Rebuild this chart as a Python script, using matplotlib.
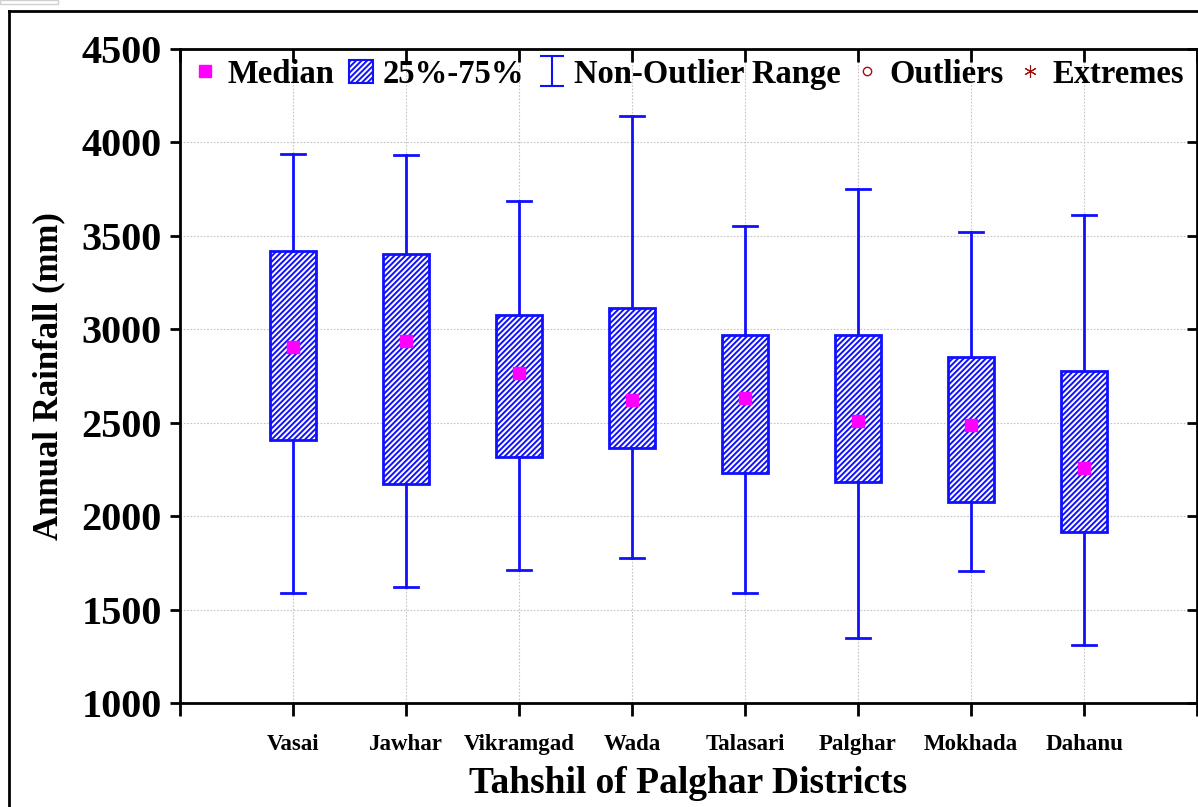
import matplotlib
matplotlib.use("Agg")
import matplotlib.pyplot as plt
from matplotlib.lines import Line2D
from matplotlib.patches import Patch, Rectangle
from matplotlib.path import Path

plt.rcParams["font.family"] = ["Liberation Serif", "DejaVu Serif"]
plt.rcParams["font.weight"] = "bold"
plt.rcParams["hatch.color"] = "#1010ff"
plt.rcParams["hatch.linewidth"] = 1.4

# --- dados (mm) --------------------------------------------------------
tahshils = ["Vasai", "Jawhar", "Vikramgad", "Wada",
            "Talasari", "Palghar", "Mokhada", "Dahanu"]
medianas = [2905, 2937, 2766, 2622, 2632, 2509, 2488, 2258]
q1 = [2408, 2172, 2317, 2365, 2231, 2183, 2076, 1915]
q3 = [3419, 3403, 3076, 3114, 2969, 2969, 2852, 2777]
wmin = [1587, 1620, 1714, 1776, 1587, 1346, 1707, 1309]
wmax = [3937, 3932, 3686, 4142, 3553, 3750, 3523, 3612]

AZUL = "#1010ff"
MAGENTA = "#ff00ff"
HATCH = "//////"

fig = plt.figure(figsize=(11.98, 8.07), dpi=100)
ax = fig.add_axes([180 / 1198, 1 - 703 / 807, 1017 / 1198, 654 / 807])

pos = list(range(1, len(tahshils) + 1))
stats = [dict(med=m, q1=a, q3=b, whislo=lo, whishi=hi, fliers=[])
         for m, a, b, lo, hi in zip(medianas, q1, q3, wmin, wmax)]
bp = ax.bxp(stats, positions=pos, widths=0.41, capwidths=0.21,
            patch_artist=True, showfliers=False,
            boxprops=dict(facecolor="white", edgecolor=AZUL, lw=2, hatch=HATCH),
            whiskerprops=dict(color=AZUL, lw=2),
            capprops=dict(color=AZUL, lw=2),
            medianprops=dict(visible=False))
for b in bp["boxes"]:
    b.set_zorder(3)
for ln in bp["whiskers"] + bp["caps"]:
    ln.set_zorder(3)
ax.plot(pos, medianas, ls="none", marker="s", ms=8, color=MAGENTA,
        mec=MAGENTA, zorder=4)

# eixos
ax.set_xlim(0, len(tahshils) + 1)
ax.set_ylim(1000, 4500)
ax.set_yticks(range(1000, 4501, 500))
ax.tick_params(axis="y", labelsize=29, length=7, width=2, direction="out",
               right=True, pad=6)
ax.set_xticks(range(0, len(tahshils) + 2))
ax.set_xticklabels([""] + tahshils + [""], fontsize=16.5, fontweight="bold")
ax.tick_params(axis="x", length=9, width=2, direction="out", top=True, pad=13)
for t in ax.yaxis.get_ticklines()[1::2]:
    t.set_marker(0)
for t in ax.xaxis.get_ticklines()[1::2]:
    t.set_marker(3)
for s in ax.spines.values():
    s.set_linewidth(2)
ax.grid(True, ls=(0, (1.5, 1.5)), color="#c4c4c4", lw=0.8)
ax.set_axisbelow(True)

ax.set_ylabel("Annual Rainfall (mm)", fontsize=25, fontweight="bold", labelpad=12)
ax.set_xlabel("Tahshil of Palghar Districts", fontsize=27, fontweight="bold",
              labelpad=8)

# legenda
ibeam = Path([(-0.4, 0.5), (0.4, 0.5), (0, 0.5), (0, -0.5), (-0.4, -0.5), (0.4, -0.5)],
             [Path.MOVETO, Path.LINETO, Path.MOVETO, Path.LINETO,
              Path.MOVETO, Path.LINETO])
handles = [
    Line2D([], [], ls="none", marker="s", ms=8, color=MAGENTA),
    Patch(facecolor="white", edgecolor=AZUL, hatch=HATCH, lw=1.5),
    Line2D([], [], ls="none", marker=ibeam, ms=22, mec=AZUL, mew=1.5, fillstyle="none"),
    Line2D([], [], ls="none", marker="o", ms=6, mec="#a01010", mfc="none", mew=1),
    Line2D([], [], ls="none", marker=(6, 2, 0), ms=9, mec="#a01010", mew=0.8),
]
labels = ["Median", "25%-75%", "Non-Outlier Range", "Outliers", "Extremes"]
ax.legend(handles, labels, loc="upper center", bbox_to_anchor=(0.5, 1.02),
          ncol=5, frameon=False, prop=dict(size=23.5, weight="bold"),
          handlelength=0.75, handletextpad=0.3, columnspacing=0.45,
          borderaxespad=0.3)

# moldura externa
fig.add_artist(Line2D([8.5 / 1198, 1], [1 - 10.5 / 807] * 2, color="black", lw=2,
                      transform=fig.transFigure))
fig.add_artist(Line2D([8.5 / 1198] * 2, [0, 1 - 10.5 / 807], color="black", lw=2,
                      transform=fig.transFigure))
fig.add_artist(Rectangle((0, 1 - 4 / 807), 58 / 1198, 4 / 807, fill=False,
                         edgecolor="#d0d0d0", lw=1, transform=fig.transFigure))

fig.savefig("out.png", dpi=100)
